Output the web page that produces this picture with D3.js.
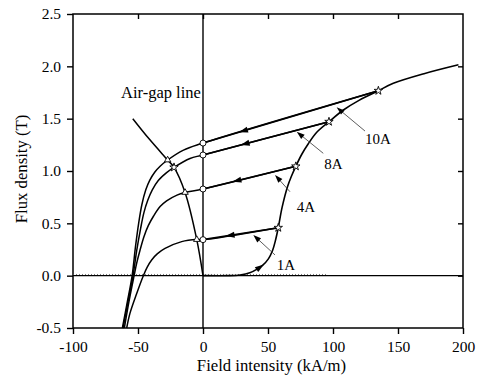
<!DOCTYPE html>
<html><head><meta charset="utf-8">
<script src="https://cdn.jsdelivr.net/npm/d3@7"></script>
<style>
body{margin:0;background:#fff}
svg{display:block}
text{font-family:"Liberation Serif","Times New Roman",serif;fill:#000}
</style>
</head><body><svg id="c" width="482" height="377"></svg>
<script>
// ---- data ----
const xTicks = [-100, -50, 0, 50, 100, 150, 200];
const yTicks = [-0.5, 0, 0.5, 1, 1.5, 2, 2.5];
const currents = ["10A", "8A", "4A", "1A"];
// recoil line ends (star on magnetisation curve) and remanence (circle at H=0)
const recoilStar = [[134.9, 1.767], [96.9, 1.471], [71.4, 1.045], [57.9, 0.458]];
const recoilCircle = [[0, 1.267], [0, 1.153], [0, 0.828], [0, 0.344]];
// intersection with air-gap line
const gapPoint = [[-27.2, 1.105], [-22.3, 1.035], [-13.8, 0.795], [-4.8, 0.345]];
const gapMarker = ["triangle", "star", "triangle", "triangle"];
// demagnetisation parts (second/third quadrant)
const knee10A = [[-15, 1.2], [-27.2, 1.105], [-33, 1.045], [-37, 0.99], [-41, 0.91], [-44, 0.82], [-47, 0.68], [-49.5, 0.5], [-52, 0.27], [-54.5, 0], [-58.5, -0.27], [-62, -0.5]];
const knee8A = [[-10, 1.12], [-22.3, 1.035], [-28, 0.985], [-34.4, 0.91], [-39, 0.82], [-42.5, 0.72], [-45.5, 0.6], [-48, 0.45], [-51, 0.24], [-53.8, 0], [-58, -0.27], [-61.5, -0.5]];
const knee4A = [[-13.8, 0.795], [-20, 0.77], [-28, 0.715], [-33, 0.66], [-38, 0.57], [-42, 0.48], [-45.5, 0.37], [-48.5, 0.24], [-51, 0.12], [-53, 0], [-57, -0.25], [-60.5, -0.5]];
const knee1A = [[-4.8, 0.345], [-16.4, 0.325], [-29.2, 0.26], [-35, 0.21], [-39.5, 0.15], [-43, 0.08], [-45.9, 0.0], [-51, -0.17], [-56.2, -0.36], [-58.7, -0.5]];
const knees = [knee10A, knee8A, knee4A, knee1A];
// initial magnetisation curve
const magCurve = [[0, 0], [20, 0], [28.5, 0.007], [36, 0.028], [42, 0.065], [46, 0.1], [50.3, 0.16], [53.5, 0.24], [55.6, 0.33], [57.9, 0.458], [60.8, 0.65], [65, 0.85], [68, 0.95], [71.4, 1.045], [76, 1.16], [81, 1.26], [87.5, 1.37], [96.9, 1.471], [108, 1.583], [120, 1.675], [134.9, 1.767], [146.4, 1.838], [170, 1.93], [196.5, 2.015]];
// air-gap line
const airGap = [[-54, 1.5], [-41, 1.3], [-27.2, 1.105], [-22.3, 1.035], [-13.8, 0.795], [-4.8, 0.345], [0, 0]];
// arrows on recoil lines (H position), arrow on magnetisation curve
const recoilArrowH = [31, 32.3, 26, 20.8];
const magArrowH = 44;
// labels with leader lines: text anchor, leader start, leader tip (data coords)
const labelText = [[124.6, 1.258], [93.3, 1.016], [72.1, 0.611], [56.7, 0.054]];
const leaderStart = [[124.6, 1.382], [92.5, 1.169], [66.9, 0.802], [55.4, 0.198]];
const leaderTip = [[102.8, 1.608], [72.1, 1.375], [55.4, 0.962], [38.7, 0.389]];
const airGapLabel = ["Air-gap line", -63.1, 1.697];
const xTitle = "Field intensity (kA/m)";
const yTitle = "Flux density (T)";

// ---- chart ----
const W = 482, H = 377, m = {l: 73, r: 19, t: 14, b: 49};
const x = d3.scaleLinear().domain([-100, 200]).range([m.l, W - m.r]);
const y = d3.scaleLinear().domain([-0.5, 2.5]).range([H - m.b, m.t]);
const svg = d3.select("#c");
const fmtX = d => String(d);
const fmtY = d => d3.format(".1f")(d).replace("\u2212", "-");

// axes
const gB = svg.append("g").attr("transform", `translate(0,${H - m.b})`)
  .call(d3.axisBottom(x).tickValues(xTicks).tickSize(6).tickSizeOuter(0).tickPadding(7).tickFormat(fmtX));
const gL = svg.append("g").attr("transform", `translate(${m.l},0)`)
  .call(d3.axisLeft(y).tickValues(yTicks).tickSize(6).tickSizeOuter(0).tickPadding(6).tickFormat(fmtY));
const gT = svg.append("g").attr("transform", `translate(0,${m.t})`)
  .call(d3.axisTop(x).tickValues(xTicks.slice(1, -1)).tickSize(-5).tickSizeOuter(0).tickFormat(""));
const gR = svg.append("g").attr("transform", `translate(${W - m.r},0)`)
  .call(d3.axisRight(y).tickValues(yTicks.slice(1, -1)).tickSize(-5).tickSizeOuter(0).tickFormat(""));
[gB, gL, gT, gR].forEach(g => {
  g.select(".domain").remove();
  g.selectAll("line").attr("stroke", "#000").attr("stroke-width", 1.4);
  g.selectAll("text").attr("font-size", 15.5).attr("font-family", "Liberation Serif").attr("fill", "#000");
});
svg.append("rect").attr("x", x(-100)).attr("y", y(2.5))
  .attr("width", x(200) - x(-100)).attr("height", y(-0.5) - y(2.5))
  .attr("fill", "none").attr("stroke", "#000").attr("stroke-width", 1.5);

// zero lines
svg.append("line").attr("x1", x(-100)).attr("x2", x(200)).attr("y1", y(0)).attr("y2", y(0))
  .attr("stroke", "#000").attr("stroke-width", 1.4);
svg.append("line").attr("x1", x(0)).attr("x2", x(0)).attr("y1", y(-0.5)).attr("y2", y(2.5))
  .attr("stroke", "#000").attr("stroke-width", 1.4);
svg.append("line").attr("x1", x(-100)).attr("x2", x(95)).attr("y1", y(0) - 1.2).attr("y2", y(0) - 1.2)
  .attr("stroke", "#555").attr("stroke-width", 0.8).attr("stroke-dasharray", "1,2");

const lineC = d3.line().x(d => x(d[0])).y(d => y(d[1])).curve(d3.curveCatmullRom.alpha(0.5));
const lineL = d3.line().x(d => x(d[0])).y(d => y(d[1]));

// curves
svg.append("path").attr("d", lineC(airGap)).attr("fill", "none").attr("stroke", "#000").attr("stroke-width", 1.5);
svg.append("path").attr("d", lineC(magCurve)).attr("fill", "none").attr("stroke", "#000").attr("stroke-width", 1.6);
currents.forEach((c, i) => {
  svg.append("path").attr("d", lineL([recoilStar[i], recoilCircle[i]]))
    .attr("fill", "none").attr("stroke", "#000").attr("stroke-width", 1.6);
  svg.append("path").attr("d", lineC([recoilStar[i], recoilCircle[i]].concat(knees[i])))
    .attr("fill", "none").attr("stroke", "#000").attr("stroke-width", 1.5);
});

// arrowhead helper
function arrowHead(px, py, ang, len, wid) {
  const ca = Math.cos(ang), sa = Math.sin(ang);
  const bx = px - ca * len, by = py - sa * len;
  return `M${px},${py}L${bx - sa * wid / 2},${by + ca * wid / 2}L${bx + sa * wid / 2},${by - ca * wid / 2}Z`;
}
// arrows on recoil lines (pointing towards H=0)
currents.forEach((c, i) => {
  const s = recoilStar[i], o = recoilCircle[i];
  const t = recoilArrowH[i] / s[0];
  const b = o[1] + (s[1] - o[1]) * t;
  const px = x(recoilArrowH[i]), py = y(b);
  const ang = Math.atan2(y(o[1]) - y(s[1]), x(o[0]) - x(s[0]));
  svg.append("path").attr("d", arrowHead(px + Math.cos(ang) * 4.5, py + Math.sin(ang) * 4.5, ang, 9, 6)).attr("fill", "#000");
});
// arrow on magnetisation curve
{
  const i = magCurve.findIndex(p => p[0] > magArrowH);
  const p0 = magCurve[i - 1], p1 = magCurve[i];
  const t = (magArrowH - p0[0]) / (p1[0] - p0[0]);
  const yy = p0[1] + (p1[1] - p0[1]) * t;
  const ang = Math.atan2(y(p1[1]) - y(p0[1]), x(p1[0]) - x(p0[0]));
  svg.append("path").attr("d", arrowHead(x(magArrowH) + Math.cos(ang) * 4.5, y(yy) + Math.sin(ang) * 4.5, ang, 9, 6)).attr("fill", "#000");
}

// leader lines + labels
currents.forEach((c, i) => {
  const a = leaderStart[i], b = leaderTip[i];
  const ang = Math.atan2(y(b[1]) - y(a[1]), x(b[0]) - x(a[0]));
  svg.append("line").attr("x1", x(a[0])).attr("y1", y(a[1])).attr("x2", x(b[0]) - Math.cos(ang) * 5).attr("y2", y(b[1]) - Math.sin(ang) * 5)
    .attr("stroke", "#333").attr("stroke-width", 0.8);
  svg.append("path").attr("d", arrowHead(x(b[0]), y(b[1]), ang, 8, 5.5)).attr("fill", "#000");
  svg.append("text").attr("x", x(labelText[i][0])).attr("y", y(labelText[i][1]))
    .attr("font-size", 15).text(c);
});
svg.append("text").attr("x", x(airGapLabel[1])).attr("y", y(airGapLabel[2])).attr("font-size", 16.5).text(airGapLabel[0]);

// markers
const star = d3.symbol().type(d3.symbolStar).size(22);
const tri = d3.symbol().type(d3.symbolTriangle).size(18);
currents.forEach((c, i) => {
  svg.append("path").attr("d", star()).attr("transform", `translate(${x(recoilStar[i][0])},${y(recoilStar[i][1])})`)
    .attr("fill", "#fff").attr("stroke", "#000").attr("stroke-width", 0.9);
  svg.append("circle").attr("cx", x(recoilCircle[i][0])).attr("cy", y(recoilCircle[i][1])).attr("r", 3)
    .attr("fill", "#fff").attr("stroke", "#000").attr("stroke-width", 0.9);
  svg.append("path").attr("d", gapMarker[i] === "star" ? star() : tri())
    .attr("transform", `translate(${x(gapPoint[i][0])},${y(gapPoint[i][1])})`)
    .attr("fill", "#fff").attr("stroke", "#000").attr("stroke-width", 0.9);
});

// titles
svg.append("text").attr("x", 271.5).attr("y", 371).attr("text-anchor", "middle")
  .attr("font-size", 16.7).text(xTitle);
svg.append("text").attr("transform", `translate(27,${(y(-0.5) + y(2.5)) / 2 - 2}) rotate(-90)`).attr("text-anchor", "middle")
  .attr("font-size", 16.7).text(yTitle);
</script>
</body></html>
